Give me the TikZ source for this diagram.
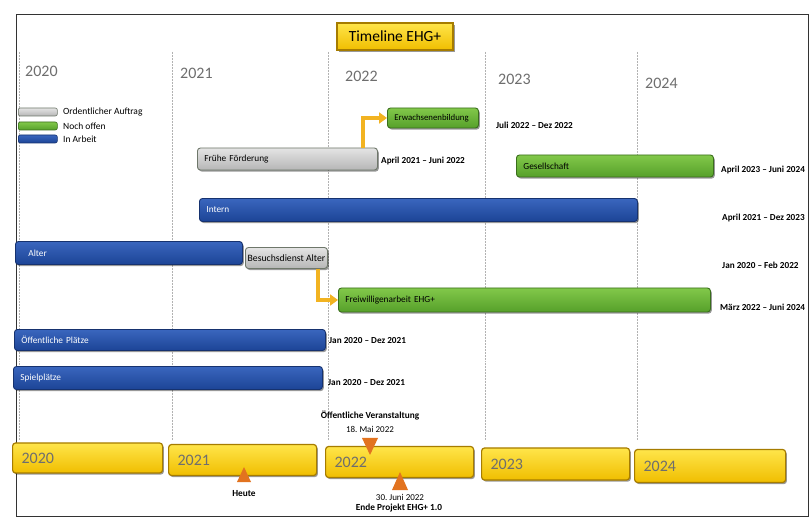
\documentclass[tikz,border=0pt]{standalone}
\usepackage{fontspec}
\setmainfont{Carlito}
\usetikzlibrary{shadows,arrows.meta}
\frenchspacing
\definecolor{bluetop}{HTML}{3A66BE}
\definecolor{bluebot}{HTML}{1C4496}
\definecolor{blueedge}{HTML}{16326F}
\definecolor{greentop}{HTML}{82C84A}
\definecolor{greenbot}{HTML}{56A02A}
\definecolor{greenedge}{HTML}{3A6E1C}
\definecolor{graytop}{HTML}{E4E4E4}
\definecolor{graybot}{HTML}{B6B6B6}
\definecolor{grayedge}{HTML}{6E776A}
\definecolor{yeltop}{HTML}{FFE54A}
\definecolor{yelbot}{HTML}{F0BE00}
\definecolor{yeledge}{HTML}{A67C00}
\definecolor{goldarrow}{HTML}{F2B321}
\definecolor{orangetri}{HTML}{E2731F}
\definecolor{yeargray}{HTML}{6E6E6E}
\tikzset{
  barbase/.style={rounded corners=3pt, line width=0.9pt, anchor=west, inner xsep=7pt, inner ysep=0pt,
    drop shadow={shadow xshift=1.3pt, shadow yshift=-1.6pt, opacity=0.4, fill=black},
    font=\fontsize{9.3}{10}\selectfont},
  bluebar/.style={barbase, draw=blueedge, top color=bluetop, bottom color=bluebot, text=white},
  greenbar/.style={barbase, draw=greenedge, top color=greentop, bottom color=greenbot, text=black},
  graybar/.style={barbase, draw=grayedge, top color=graytop, bottom color=graybot, text=black},
  yelbar/.style={barbase, draw=yeledge, line width=1.2pt, top color=yeltop, bottom color=yelbot, text=yeargray,
    font=\fontsize{16}{18}\selectfont, inner xsep=9pt},
  legendbox/.style={rounded corners=2pt, line width=0.6pt, anchor=west, minimum width=39pt, minimum height=8pt, inner sep=0pt},
  legtext/.style={anchor=west, font=\fontsize{9.5}{10}\selectfont, inner sep=0pt},
  datetext/.style={anchor=west, font=\fontsize{9.2}{10}\selectfont\bfseries, inner sep=0pt},
  yearhead/.style={anchor=west, font=\fontsize{16}{18}\selectfont, text=yeargray, inner sep=0pt},
  yearline/.style={densely dotted, draw=gray!60, line width=0.5pt},
  goldlink/.style={draw=goldarrow, line width=3.6pt, -{Triangle[length=8pt,width=11pt]}},
  marktext/.style={font=\fontsize{9}{10}\selectfont, inner sep=0pt},
  markbold/.style={marktext, font=\fontsize{9.3}{10}\selectfont\bfseries}
}
\begin{document}
\begin{tikzpicture}[x=1pt,y=-1pt]
\useasboundingbox (0,0) rectangle (812,521);
\fill[white] (0,0) rectangle (812,521);
% frame
\draw[line width=0.8pt, draw=black!80] (16,14) rectangle (808,516);
% year columns
\foreach \xx in {19,172,328,485,637} { \draw[yearline] (\xx,52) -- (\xx,440); }
% title
\node[draw=yeledge, line width=1.2pt, top color=yeltop, bottom color=yelbot,
  drop shadow={shadow xshift=1.5pt, shadow yshift=-1.8pt, opacity=0.4, fill=black},
  minimum width=116pt, minimum height=27pt, inner sep=0pt, font=\fontsize{15.5}{18}\selectfont]
  (title) at (395,36.5) {Timeline EHG+};
% year headings
\node[yearhead] (y20) at (25,71) {2020};
\node[yearhead] (y21) at (180,73) {2021};
\node[yearhead] (y22) at (345,76) {2022};
\node[yearhead] (y23) at (498,79) {2023};
\node[yearhead] (y24) at (645,83) {2024};
% legend
\node[legendbox, draw=grayedge, top color=graytop, bottom color=graybot] (lg1) at (18,112) {};
\node[legendbox, draw=greenedge, top color=greentop, bottom color=greenbot] (lg2) at (18,126) {};
\node[legendbox, draw=blueedge, top color=bluetop, bottom color=bluebot] (lg3) at (18,139) {};
\node[legtext] (lt1) at (63,112) {Ordentlicher Auftrag};
\node[legtext] (lt2) at (63,126) {Noch offen};
\node[legtext] (lt3) at (63,139) {In Arbeit};
% bars
\node[greenbar, minimum width=91pt, minimum height=20pt, text width=77pt, align=left, font=\fontsize{8.8}{10}\selectfont] (erw) at (387,118) {Erwachsenenbildung};
\node[graybar, minimum width=180pt, minimum height=22pt, text width=166pt, align=left] (ff) at (197,159) {Frühe Förderung};
\node[greenbar, minimum width=197pt, minimum height=22pt, text width=183pt, align=left] (ges) at (516,166) {Gesellschaft};
\node[bluebar, minimum width=438pt, minimum height=23pt, text width=424pt, align=left] (int) at (199,210) {Intern};
\node[bluebar, minimum width=227pt, minimum height=23pt, text width=213pt, align=left] (alt) at (15,253) {\hspace*{6pt}Alter};
\node[graybar, minimum width=82pt, minimum height=21pt, inner xsep=1.5pt, font=\fontsize{9.7}{11}\selectfont] (bes) at (245,258) {Besuchsdienst Alter};
\node[greenbar, minimum width=372pt, minimum height=24pt, text width=358pt, align=left] (frw) at (338,300) {Freiwilligenarbeit EHG+};
\node[bluebar, minimum width=311pt, minimum height=21pt, text width=297pt, align=left] (oep) at (14,340) {Öffentliche Plätze};
\node[bluebar, minimum width=309pt, minimum height=23pt, text width=295pt, align=left] (spp) at (13,378) {Spielplätze};
% links
\coordinate (c1) at (363,0);
\coordinate (c2) at (318,0);
\draw[goldlink] (ff.north -| c1) |- (erw.west);
\draw[goldlink] (bes.south -| c2) |- (frw.west);
% dates
\node[datetext] (d1) at (496,125) {Juli 2022 – Dez 2022};
\node[datetext] (d2) at (381,161) {April 2021 – Juni 2022};
\node[datetext] (d3) at (721,170) {April 2023 – Juni 2024};
\node[datetext] (d4) at (722,218) {April 2021 – Dez 2023};
\node[datetext] (d5) at (722,265) {Jan 2020 – Feb 2022};
\node[datetext] (d6) at (720,307) {März 2022 – Juni 2024};
\node[datetext] (d7) at (329,341) {Jan 2020 – Dez 2021};
\node[datetext] (d8) at (328,383) {Jan 2020 – Dez 2021};
% bottom timeline
\node[yelbar, minimum width=150pt, minimum height=30pt, text width=132pt, align=left] (b20) at (12,458) {2020};
\node[yelbar, minimum width=148pt, minimum height=31pt, text width=130pt, align=left] (b21) at (168,460) {2021};
\node[yelbar, minimum width=148pt, minimum height=31pt, text width=130pt, align=left] (b22) at (325,462) {2022};
\node[yelbar, minimum width=148pt, minimum height=32pt, text width=130pt, align=left] (b23) at (481,464) {2023};
\node[yelbar, minimum width=151pt, minimum height=33pt, text width=133pt, align=left] (b24) at (634,466) {2024};
% markers
\fill[orangetri] (362,438) -- (378,438) -- (370,455) -- cycle;
\fill[orangetri] (237,482) -- (251,482) -- (244,467) -- cycle;
\fill[orangetri] (392,490) -- (408,490) -- (400,472) -- cycle;
\node[markbold] (m1) at (370,416) {Öffentliche Veranstaltung};
\node[marktext] (m2) at (370,429) {18. Mai 2022};
\node[markbold] (m3) at (244,494) {Heute};
\node[marktext] (m4) at (400,497) {30. Juni 2022};
\node[markbold] (m5) at (399,508) {Ende Projekt EHG+ 1.0};
\end{tikzpicture}
\end{document}
